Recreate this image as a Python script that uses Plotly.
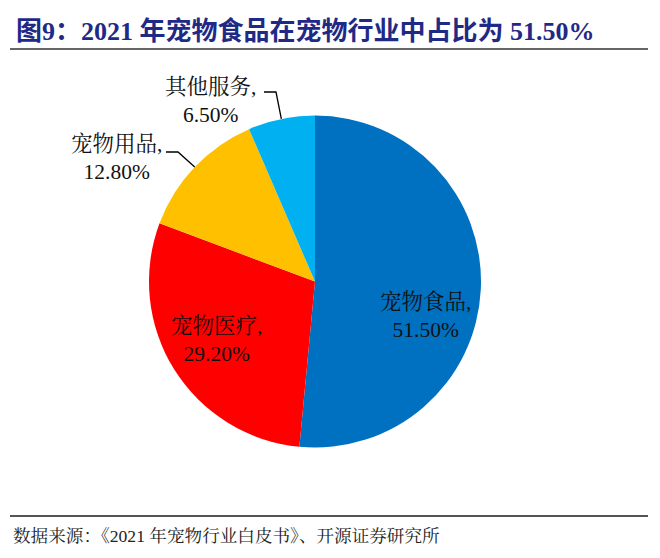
import math
import plotly.graph_objects as go

# ---- data ----
categories = ["宠物食品", "宠物医疗", "宠物用品", "其他服务"]
shares = [51.50, 29.20, 12.80, 6.50]
colors = ["#0070C0", "#FF0000", "#FFC000", "#00B0F0"]
title_text = "图9：2021 年宠物食品在宠物行业中占比为 51.50%"
source_text = "数据来源：《2021 年宠物行业白皮书》、开源证券研究所"

# ---- layout constants (pixels) ----
W, H = 660, 558
CX, CY, R = 315, 281.5, 166
SERIF = "Liberation Serif, 'Noto Serif CJK SC', 'Noto Sans CJK SC', serif"

def px(x):
    return x / W

def py(y):
    return 1 - y / H

fig = go.Figure(go.Pie(
    labels=categories, values=shares,
    marker=dict(colors=colors, line=dict(width=0)),
    sort=False, direction="clockwise", rotation=0,
    textinfo="none", hoverinfo="label+percent", showlegend=False,
    domain=dict(x=[px(CX - R), px(CX + R)], y=[py(CY + R), py(CY - R)]),
))

# label anchor positions (pixel centres of the two text lines)
label_pos = {
    "宠物食品": (425, 316),
    "宠物医疗": (216, 340),
    "宠物用品": (116, 158),
    "其他服务": (210, 101),
}
annotations = []
for name, val in zip(categories, shares):
    x, y = label_pos[name]
    annotations.append(dict(
        x=px(x), y=py(y), xref="paper", yref="paper", showarrow=False,
        text=f"{name},<br>{val:.2f}%", align="center",
        font=dict(family=SERIF, size=21.5, color="#111111"),
        xanchor="center", yanchor="middle",
    ))

# leader lines for outside labels: from label end to slice mid-angle on edge
shapes = []
total = sum(shares)
cum = 0
leader_start = {"宠物用品": (166, 152), "其他服务": (264, 92)}
for name, val in zip(categories, shares):
    mid = (cum + val / 2) / total * 360
    cum += val
    if name in leader_start:
        ang = math.radians(90 - mid)
        ex = CX + R * math.cos(ang)
        ey = CY - R * math.sin(ang)
        sx, sy = leader_start[name]
        kx = sx + 12
        shapes.append(dict(
            type="path", xref="paper", yref="paper",
            path=f"M {px(sx)} {py(sy)} L {px(kx)} {py(sy)} L {px(ex)} {py(ey)}",
            line=dict(color="#000000", width=1.3),
        ))

# title and source
annotations.append(dict(
    x=px(14), y=py(31), xref="paper", yref="paper", showarrow=False,
    text=f"<b>{title_text}</b>", xanchor="left", yanchor="middle",
    font=dict(family="Liberation Serif, 'Noto Sans CJK SC', serif", size=26, color="#1F2A86"),
))
annotations.append(dict(
    x=px(11), y=py(536), xref="paper", yref="paper", showarrow=False,
    text=source_text, xanchor="left", yanchor="middle",
    font=dict(family=SERIF, size=17.6, color="#222222"),
))
shapes.append(dict(type="line", xref="paper", yref="paper",
                   x0=px(10), x1=px(648), y0=py(49), y1=py(49),
                   line=dict(color="#333333", width=1.5)))
shapes.append(dict(type="line", xref="paper", yref="paper",
                   x0=px(10), x1=px(648), y0=py(516), y1=py(516),
                   line=dict(color="#555555", width=2)))

fig.update_layout(
    width=W, height=H, margin=dict(l=0, r=0, t=0, b=0),
    paper_bgcolor="white", plot_bgcolor="white",
    annotations=annotations, shapes=shapes,
)
fig.write_html("out.html")
